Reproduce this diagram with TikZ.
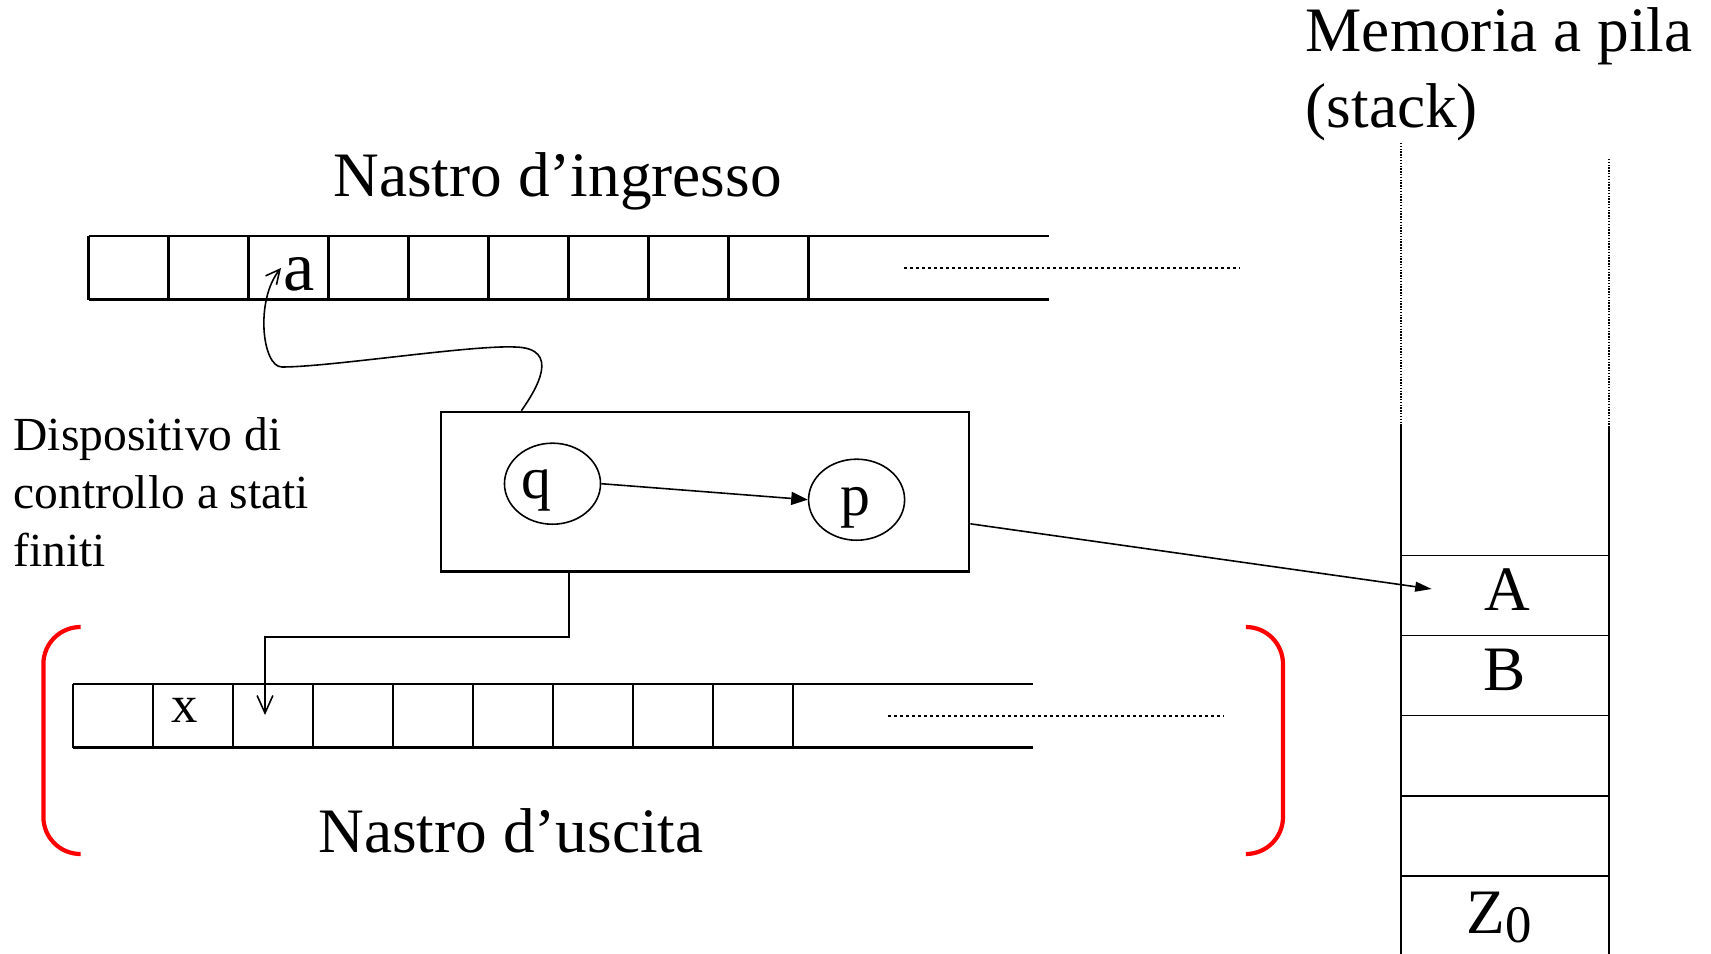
\documentclass[tikz,border=0pt]{standalone}
\usepackage{fontspec}
\setmainfont{Liberation Serif}
\usetikzlibrary{arrows.meta,shapes.geometric}

\begin{document}
\begin{tikzpicture}[x=0.01cm,y=-0.01cm,
    fita/.style={line width=0.7pt},
    pontos/.style={line width=0.6pt,dash pattern=on 0.85pt off 0.85pt},
    estado/.style={draw,ellipse,line width=0.45pt,minimum width=0.96cm,minimum height=0.81cm,inner sep=0pt},
    ligacao/.style={line width=0.45pt},
    colchete/.style={red,line width=1.2pt,rounded corners=0.37cm},
    texto/.style={inner sep=0pt,anchor=base,font=\fontsize{18}{21.6}\selectfont}]
  \useasboundingbox (0,0) rectangle (1711,954);

  % fitas (entrada em cima, saída em baixo)
  \foreach \x/\y in {88.7/236, 73/684}{
    \draw[fita] (\x,\y) -- +(960,0) (\x,\y+63.5) -- +(960,0);
    \foreach \k in {0,...,9}
      \draw[fita] (\x+80*\k,\y) -- +(0,63.5);
    \draw[pontos] (\x+815.3,\y+31.7) -- +(335,0);
  }
  \node[texto] (ingresso) at (557.6,196.4) {Nastro d’ingresso};
  \node[texto,anchor=base west] (uscita) at (317.8,852) {Nastro d’uscita};
  \node[texto,font=\fontsize{20}{24}\selectfont] (a) at (299,290.7) {a};
  \node[texto,font=\fontsize{15}{18}\selectfont] (x) at (184.2,722.7) {x};

  % colchetes vermelhos
  \draw[colchete] (80.5,627) -- (43.4,627) -- (43.4,854) -- (80.5,854);
  \draw[colchete] (1246,627) -- (1283,627) -- (1283,854) -- (1246,854);

  % dispositivo de controle
  \node[draw,fita,minimum width=5.28cm,minimum height=1.597cm,inner sep=0pt] (ctrl) at (705,491.8) {};
  \node[estado] (q) at (552.5,483.7) {};
  \node[estado] (p) at (856.6,499.7) {};
  \node[texto,font=\fontsize{17}{20}\selectfont] (qtxt) at (536.6,498.3) {q};
  \node[texto,font=\fontsize{17}{20}\selectfont] (ptxt) at (855.4,515.5) {p};
  \draw[ligacao,-{Triangle[length=4.7pt,width=3.7pt]}] (q.east) -- (p.west);
  \node[texto,anchor=base west,align=left,font=\fontsize{13.5}{16.4}\selectfont] (disp) at (13,566.3)
    {Dispositivo di\\controllo a stati\\finiti};

  % pilha
  \draw[pontos,dash pattern=on 0.4pt off 0.4pt] (1401,143) -- (1401,426) (1609,159) -- (1609,426);
  \draw[line width=0.6pt] (1401,426) -- (1401,954) (1609,426) -- (1609,954);
  \foreach \k in {0,...,4}
    \draw[ligacao] (1401,555.5+80.1*\k) -- (1609,555.5+80.1*\k);
  \node[texto,anchor=base west] (mem) at (1305,51) {Memoria a pila};
  \node[texto,anchor=base west] (stack) at (1305,127) {(stack)};
  \node[texto] (A) at (1507.5,610) {A};
  \node[texto] (B) at (1504.5,690.4) {B};
  \node[texto] (Z) at (1499,933) {Z\raisebox{-2.8pt}{\fontsize{15}{18}\selectfont 0}};

  % pontas das ligações
  \coordinate (atip) at (281,268);
  \coordinate (xtip) at (265,715);
  \coordinate (topo) at (1431.7,589);

  % ligações
  \draw[ligacao,-{Straight Barb[length=4pt,width=4pt]}] ([xshift=-1.835cm]ctrl.north)
    .. controls (536,390) and (562,348) .. (515,347)
    .. controls (470,345) and (330,367) .. (282,367)
    .. controls (262,367) and (255,300) .. (atip);
  \draw[ligacao,-{Straight Barb[length=5pt,width=4.5pt]}] ([xshift=-1.36cm]ctrl.south) -- ++(0,64) -| (xtip);
  \draw[ligacao,-{Triangle[length=4.7pt,width=2.8pt]}] ([yshift=-0.32cm]ctrl.east) -- (topo);
\end{tikzpicture}
\end{document}
